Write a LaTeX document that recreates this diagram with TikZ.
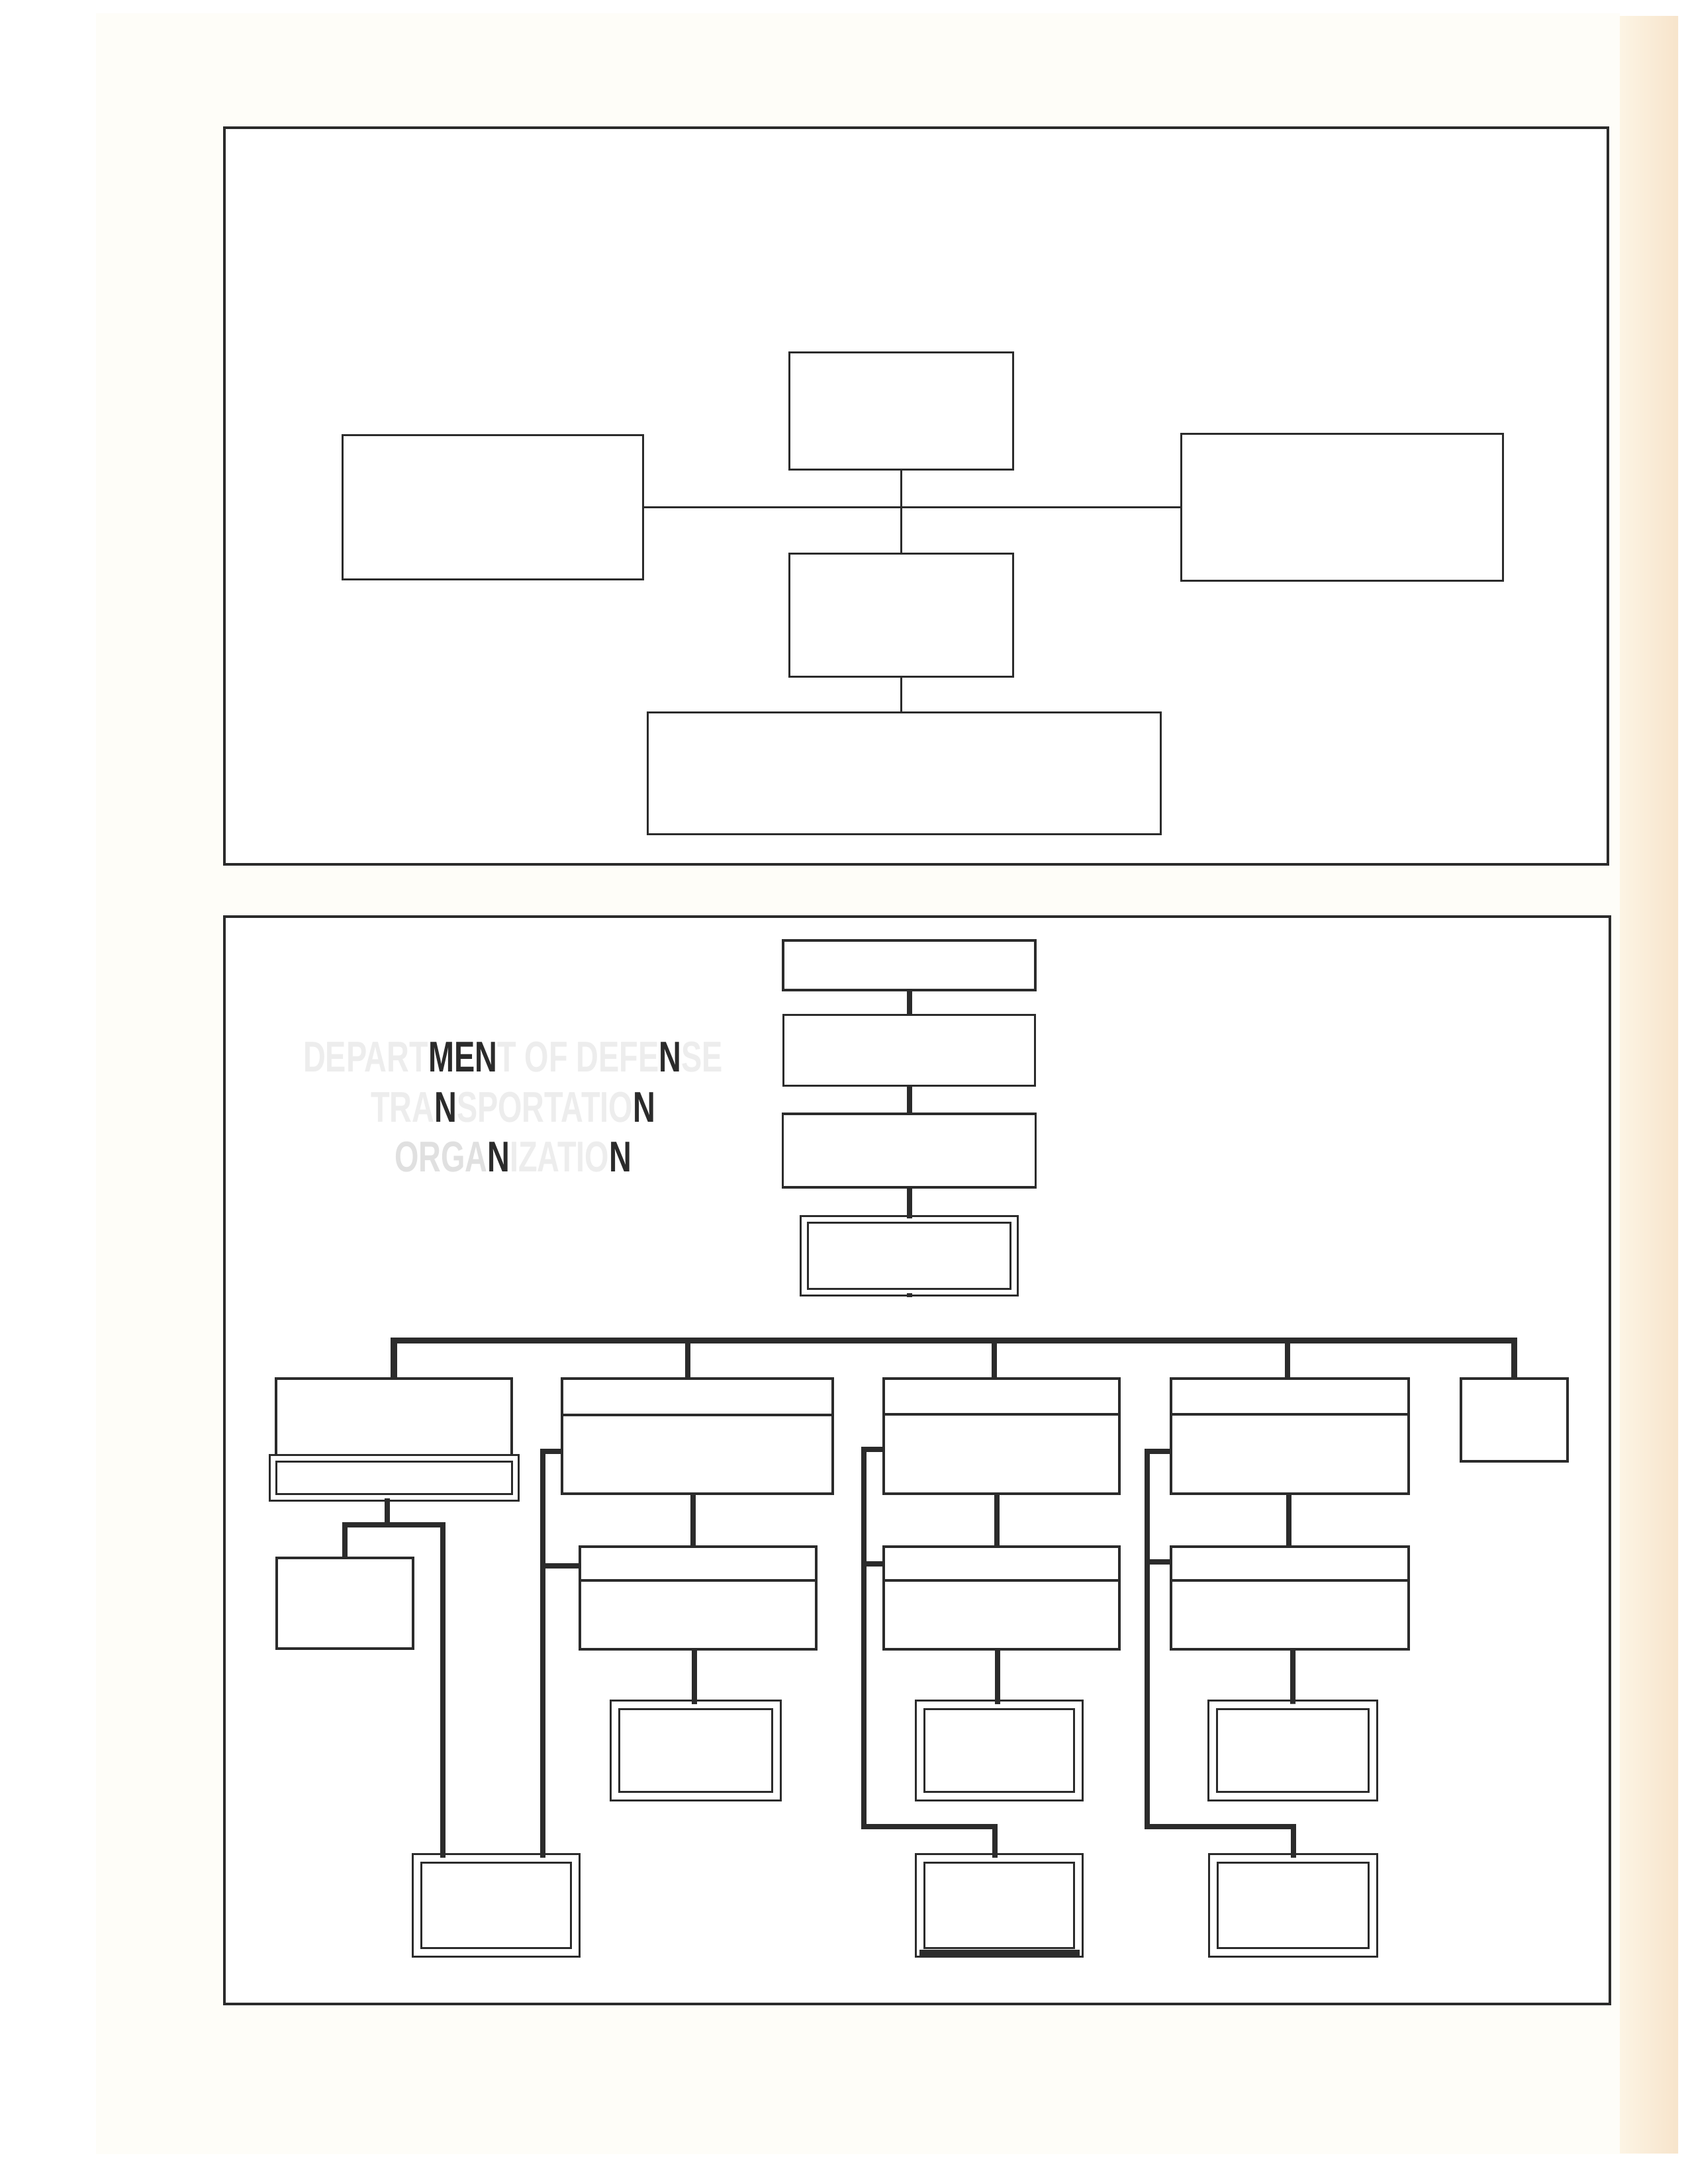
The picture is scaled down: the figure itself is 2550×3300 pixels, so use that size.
\documentclass[tikz,border=0pt]{standalone}
\usepackage{fontspec}
\usepackage{tikz}
\usetikzlibrary{positioning,calc}
\newfontfamily\titlefont[FakeStretch=0.72]{Liberation Sans}
\definecolor{Ink}{HTML}{2B2B2B}
\definecolor{Paper}{HTML}{FEFDF8}
\definecolor{TabLight}{HTML}{FCF4E4}
\definecolor{TabDark}{HTML}{F7E4CB}
\definecolor{Ghost}{HTML}{EDEDED}
\definecolor{GhostDark}{HTML}{E0E0E0}
\newcommand{\ghost}[1]{{\color{Ghost}#1}}
\newcommand{\ghostdk}[1]{{\color{GhostDark}#1}}
\newcommand{\inked}[1]{{\color{Ink}#1}}

\begin{document}
\begin{tikzpicture}[
        x=0.1mm, y=-0.1mm,
        frame/.style={draw=Ink, line width=0.45mm, fill=white, inner sep=0pt},
        thinbox/.style={draw=Ink, line width=0.3mm, fill=white, inner sep=0pt},
        box/.style={draw=Ink, line width=0.35mm, fill=white, inner sep=0pt},
        hdrbox/.style={
          box,
          path picture={\draw[Ink, line width=0.35mm]
            ([yshift=-#1]path picture bounding box.north west) --
            ([yshift=-#1]path picture bounding box.north east);}
        },
        dbox/.style={
          draw=Ink, line width=0.3mm, double=white,
          double distance=1mm, fill=white, inner sep=0pt
        },
        wire/.style={draw=Ink, line width=0.3mm},
        link/.style={draw=Ink, line width=0.8mm},
        bus/.style={draw=Ink, line width=0.95mm}
      ]
        \useasboundingbox (0,0) rectangle (2550,3300);
        \fill[white] (0,0) rectangle (2550,3300);
        \fill[Paper] (145,20) rectangle (2447,3255);
        \shade[left color=TabLight, right color=TabDark] (2447,25) rectangle (2535,3253);

        % upper panel
        \node[frame, minimum width=209mm, minimum height=111.3mm] (upper) at (1384,749.5) {};
        \node[thinbox, minimum width=33.8mm, minimum height=17.7mm] (chief) at (1361,621.5) {};
        \node[thinbox, minimum width=45.4mm, minimum height=21.8mm] (west) at (744,766) {};
        \node[thinbox, minimum width=48.6mm, minimum height=22.2mm] (east) at (2027,766) {};
        \node[thinbox, minimum width=33.8mm, minimum height=18.6mm] (hub) at (1361,929) {};
        \node[thinbox, minimum width=77.5mm, minimum height=18.4mm] (base) at (1366,1168) {};

        \draw[wire] (west.east) -- (east.west);
        \draw[wire] (chief.south) -- (hub.north);
        \draw[wire] (hub.south) -- (hub.south |- base.north);

        % lower panel
        \node[frame, minimum width=209.3mm, minimum height=164.3mm] (lower) at (1385.5,2206.5) {};
        \node[font=\titlefont\bfseries\fontsize{18.5}{21.5}\selectfont, align=center, inner sep=0pt] (title) at (775,1673)
          {\ghost{DEPART}\inked{MEN}\ghost{T OF DEFE}\inked{N}\ghost{SE}\\
           \ghost{TRA}\inked{N}\ghost{SPORTATIO}\inked{N}\\
           \ghostdk{ORGA}\inked{N}\ghost{IZATIO}\inked{N}};

        \node[box, minimum width=38.1mm, minimum height=7.5mm] (top1) at (1373.5,1458.5) {};
        \node[box, minimum width=38mm, minimum height=10.7mm, below=3.4mm of top1] (top2) {};
        \node[box, minimum width=38.2mm, minimum height=11.1mm, below=3.9mm of top2] (top3) {};
        \node[dbox, minimum width=31.7mm, minimum height=11mm, double distance=0.75mm, below=4.5mm of top3] (top4) {};

        \draw[link] (top1) -- (top2);
        \draw[link] (top2) -- (top3);
        \draw[link] (top3) -- (top4);
        \draw[link] (top4.south) -- ++(0,6);

        \node[box, minimum width=35.6mm, minimum height=12mm] (c1a) at (595,2143) {};
        \node[dbox, minimum width=36.6mm, minimum height=5.9mm, double distance=0.7mm] (c1bar) at (595,2232.5) {};
        \node[box, minimum width=20.6mm, minimum height=13.7mm] (c1b) at (521,2422.5) {};
        \node[dbox, minimum width=23.9mm, minimum height=14.2mm] (c1c) at (749,2879) {};

        \node[hdrbox=5.5mm, minimum width=40.9mm, minimum height=17.4mm] (c2a) at (1053.5,2170) {};
        \node[hdrbox=5.1mm, minimum width=35.7mm, minimum height=15.5mm] (c2b) at (1054.5,2414.5) {};
        \node[dbox, minimum width=24.4mm, minimum height=13.8mm] (c2c) at (1050.5,2645) {};

        \node[hdrbox=5.4mm, minimum width=35.6mm, minimum height=17.4mm] (c3a) at (1513,2170) {};
        \node[hdrbox=5.1mm, minimum width=35.6mm, minimum height=15.5mm] (c3b) at (1513,2414.5) {};
        \node[dbox, minimum width=23.9mm, minimum height=13.8mm] (c3c) at (1509.5,2645) {};
        \node[dbox, minimum width=23.9mm, minimum height=14.2mm] (c3d) at (1509.5,2879) {};

        \node[hdrbox=5.4mm, minimum width=35.9mm, minimum height=17.4mm] (c4a) at (1948.5,2170) {};
        \node[hdrbox=5.1mm, minimum width=35.9mm, minimum height=15.5mm] (c4b) at (1948.5,2414.5) {};
        \node[dbox, minimum width=24.2mm, minimum height=13.8mm] (c4c) at (1953,2645) {};
        \node[dbox, minimum width=24.1mm, minimum height=14.2mm] (c4d) at (1953.5,2879) {};

        \node[box, minimum width=16.1mm, minimum height=12.5mm] (c5) at (2287.5,2145.5) {};

        \fill[Ink] ([yshift=0.6mm]c3d.south west) rectangle ([yshift=-0.6mm]c3d.south east);

        \draw[bus] (c1a.north) -- ++(0,-56) -| (c5.north);
        \draw[link] ([xshift=-1.45mm]c2a.north) -- ++(0,-56);
        \draw[link] ([xshift=-1.1mm]c3a.north) -- ++(0,-56);
        \draw[link] ([xshift=-0.35mm]c4a.north) -- ++(0,-56);

        \draw[link] ([xshift=-1mm]c1bar.south) -- ++(0,40) coordinate (c1j);
        \draw[link] (c1b.north) |- (c1j) -| ([xshift=-8mm]c1c.north);

        \draw[link] ([xshift=-0.65mm]c2a.south) -- ([xshift=-0.75mm]c2b.north);
        \draw[link] ([xshift=-0.55mm]c2b.south) -- ([xshift=-0.15mm]c2c.north);
        \draw[link] ([yshift=-2.3mm]c2a.west) -| ([xshift=7.1mm]c1c.north);
        \draw[link] ([yshift=4.85mm]c2b.west) -- ++(-56,0);

        \coordinate (c3turn) at (1305,2760);
        \draw[link] ([xshift=-0.7mm]c3a.south) -- ([xshift=-0.7mm]c3b.north);
        \draw[link] ([xshift=-0.6mm]c3b.south) -- ([xshift=-0.25mm]c3c.north);
        \draw[link] ([yshift=-2mm]c3a.west) -| (c3turn) -| ([xshift=-0.65mm]c3d.north);
        \draw[link] ([yshift=5.15mm]c3b.west) -- ++(-30,0);

        \coordinate (c4turn) at (1733,2760);
        \draw[link] ([xshift=-0.15mm]c4a.south) -- ([xshift=-0.15mm]c4b.north);
        \draw[link] ([xshift=0.45mm]c4b.south) -- (c4c.north);
        \draw[link] ([yshift=-2.3mm]c4a.west) -| (c4turn) -| (c4d.north);
        \draw[link] ([yshift=5.45mm]c4b.west) -- ++(-36,0);
      \end{tikzpicture}
\end{document}
